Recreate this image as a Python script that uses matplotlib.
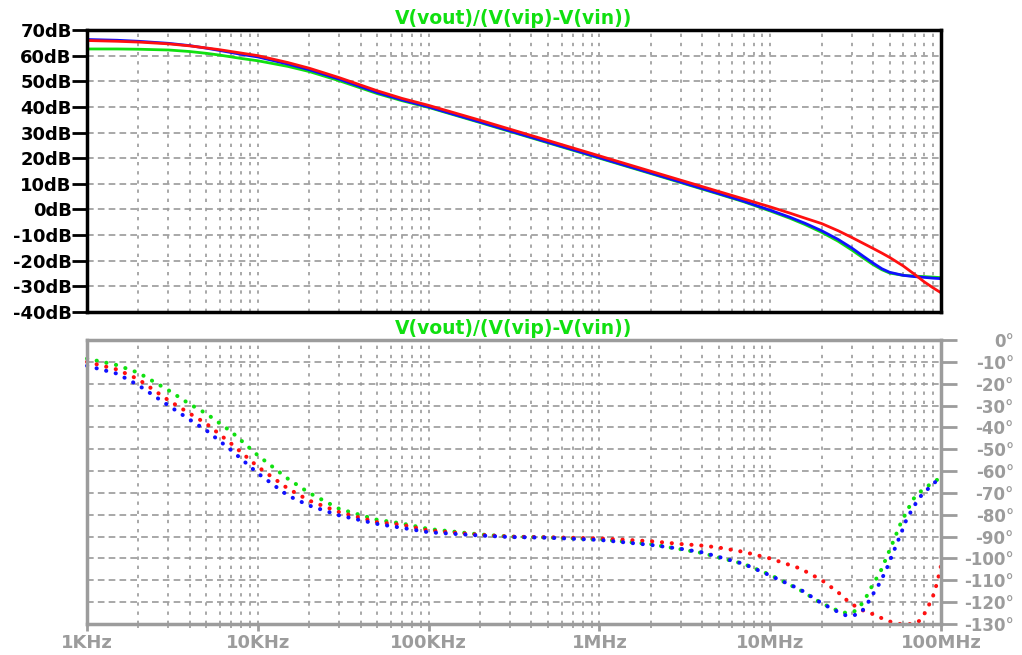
import numpy as np
import matplotlib
matplotlib.use("Agg")
import matplotlib.pyplot as plt
from matplotlib.ticker import FixedLocator, FixedFormatter, NullFormatter

# magnitude data (dB)
f_mag = [1e3, 1.5e3, 2e3, 3e3, 4e3, 5e3, 6e3, 7e3, 8e3, 1e4, 1.5e4, 2e4, 3e4, 5e4,
         7e4, 1e5, 2e5, 5e5, 1e6, 2e6, 5e6, 7e6, 1e7, 1.3e7, 1.6e7, 2e7, 2.5e7,
         3e7, 3.5e7, 4e7, 4.5e7, 5e7, 6e7, 7e7, 8e7, 9e7, 1e8]
mag_red = [65.9, 65.6, 65.3, 64.6, 63.8, 63.0, 62.3, 61.6, 61.0, 60.0, 57.3, 55.1,
           51.4, 46.3, 43.3, 40.6, 34.8, 26.9, 20.9, 14.9, 7.0, 4.1, 1.0, -1.4,
           -3.4, -5.5, -8.3, -10.9, -13.2, -15.2, -17.0, -18.7, -22.0, -25.3,
           -28.3, -30.6, -32.5]
mag_blue = [66.3, 66.0, 65.6, 64.8, 63.9, 62.9, 62.0, 61.2, 60.5, 59.5, 56.7, 54.5,
            50.8, 45.6, 42.7, 40.0, 34.1, 26.2, 20.2, 14.2, 6.2, 3.2, -0.3, -3.0,
            -5.4, -8.3, -11.7, -15.0, -18.2, -20.9, -23.1, -24.5, -25.7, -26.2,
            -26.5, -26.8, -27.0]
mag_green = [62.6, 62.6, 62.5, 62.2, 61.6, 60.9, 60.2, 59.5, 58.9, 58.0, 55.8, 53.8,
             50.2, 45.2, 42.4, 39.8, 33.9, 26.0, 20.0, 14.0, 6.0, 3.0, -0.6, -3.4,
             -5.9, -8.9, -12.4, -15.8, -18.9, -21.5, -23.5, -24.8, -25.7, -26.0,
             -26.2, -26.4, -26.6]

# phase data (degrees)
f_ph = [1e3, 1.5e3, 2e3, 3e3, 4e3, 5e3, 7e3, 1e4, 1.5e4, 2e4, 3e4, 5e4, 7e4, 1e5,
        2e5, 3e5, 5e5, 1e6, 2e6, 3e6, 4e6, 5e6, 7e6, 1e7, 1.5e7, 2e7, 2.5e7, 2.8e7,
        3.1e7, 3.4e7, 3.7e7, 4e7, 4.4e7, 4.8e7, 5.3e7, 5.8e7, 6.3e7, 6.9e7, 7.5e7,
        8.2e7, 9e7, 9.5e7, 1e8]
ph_green = [-8.5, -11.5, -15, -23, -29.4, -33.7, -42, -52.8, -63.5, -70, -77.3, -82.3,
            -84, -86.5, -89, -90, -90.4, -91.2, -93.5, -95.8, -97.5, -99.5, -102.5,
            -107.5, -114.5, -120.5, -124, -125, -124.3, -121.3, -116.8, -111.7, -106.4,
            -99.5, -91.5, -84, -78.5, -72.7, -69.7, -67.4, -65, -64, -62.8]
ph_red = [-10, -13.5, -18, -27.6, -33.7, -38.3, -47.5, -58, -68, -73.5, -78.8, -83.4,
          -84.6, -87.2, -89.2, -90, -90.3, -90.8, -92.1, -93.4, -94.1, -95, -97, -100,
          -104.6, -109.9, -115.5, -119, -121.5, -123.4, -124.6, -125.5, -127, -128.3,
          -129.5, -130, -130, -130, -128.5, -124, -117, -111, -103.3]
ph_blue = [-11.8, -15.4, -20.7, -30, -36.5, -41.4, -50.5, -61, -71.2, -75.8, -80.3,
           -84.2, -86, -88, -89.5, -90.2, -90.5, -91.5, -93.8, -95.6, -97.2, -99.3,
           -102.5, -107.8, -114.2, -120.5, -124.5, -126.2, -126, -124.8, -120.8, -116.3,
           -111, -104.8, -96.5, -89, -81.9, -76.5, -72, -68.9, -65.8, -64.3, -62.8]

x_ticks = [1e3, 1e4, 1e5, 1e6, 1e7, 1e8]
x_labels = ["1KHz", "10KHz", "100KHz", "1MHz", "10MHz", "100MHz"]
db_ticks = list(range(-40, 80, 10))
deg_ticks = list(range(-130, 10, 10))
title = "V(vout)/(V(vip)-V(vin))"

RED = "#ff1010"
BLUE = "#1010ff"
GREEN = "#10e010"
GRID = "#9a9a9a"
GRAY = "#9c9c9c"

plt.rcParams["font.family"] = "DejaVu Sans"
plt.rcParams["font.weight"] = "bold"

fig = plt.figure(figsize=(10.22, 6.55), dpi=100)
ax1 = fig.add_axes([87/1022, 1-312/655, (941-87)/1022, (312-30)/655])
ax2 = fig.add_axes([87/1022, 1-624/655, (941-87)/1022, (624-340)/655])

minor = [m*10**e for e in range(3, 8) for m in range(2, 10)]

for ax in (ax1, ax2):
    ax.set_xscale("log")
    ax.set_xlim(1e3, 1e8)
    ax.xaxis.set_major_locator(FixedLocator(x_ticks))
    ax.xaxis.set_minor_locator(FixedLocator(minor))
    ax.xaxis.set_minor_formatter(NullFormatter())
    ax.grid(which="both", axis="x", color=GRID, lw=1.2, linestyle=(0, (2, 3.5)))
    ax.grid(which="major", axis="y", color=GRID, lw=1.2, linestyle=(0, (4, 2.5)))
    ax.set_axisbelow(True)

# magnitude panel
ax1.plot(f_mag, mag_green, color=GREEN, lw=2)
ax1.plot(f_mag, mag_blue, color=BLUE, lw=2)
ax1.plot(f_mag, mag_red, color=RED, lw=2)
ax1.set_ylim(-40, 70)
ax1.yaxis.set_major_locator(FixedLocator(db_ticks))
ax1.yaxis.set_major_formatter(FixedFormatter([f"{v}dB" for v in db_ticks]))
ax1.tick_params(axis="y", direction="out", length=10.5, width=2, pad=0.5,
                labelsize=13, colors="black")
ax1.tick_params(axis="x", which="both", length=0, labelbottom=False)
for s in ax1.spines.values():
    s.set_color("black")
    s.set_linewidth(2.5)
ax1.set_title(title, color=GREEN, fontsize=13.5, fontweight="bold", pad=4)

# phase panel
dots = (0, (0.05, 2.4))
for y, c in ((ph_green, GREEN), (ph_red, RED), (ph_blue, BLUE)):
    ax2.plot(f_ph, y, color=c, lw=2.9, linestyle=dots, dash_capstyle="round",
             clip_on=False)
ax2.set_ylim(-130, 0)
ax2.yaxis.tick_right()
ax2.yaxis.set_major_locator(FixedLocator(deg_ticks))
ax2.yaxis.set_major_formatter(FixedFormatter([f"{v}\u00b0" for v in deg_ticks]))
ax2.tick_params(axis="y", direction="out", length=11.5, width=2, pad=41,
                labelsize=12, colors=GRAY)
for lab in ax2.get_yticklabels():
    lab.set_horizontalalignment("right")
ax2.xaxis.set_major_formatter(FixedFormatter(x_labels))
ax2.tick_params(axis="x", which="major", direction="out", length=5, width=2,
                pad=2, labelsize=13, colors=GRAY)
ax2.tick_params(axis="x", which="minor", direction="out", length=3, width=1.2,
                colors=GRAY)
for s in ax2.spines.values():
    s.set_color(GRAY)
    s.set_linewidth(2.5)
ax2.set_title(title, color=GREEN, fontsize=13.5, fontweight="bold", pad=4)

fig.savefig("out.png", dpi=100, facecolor="white")
